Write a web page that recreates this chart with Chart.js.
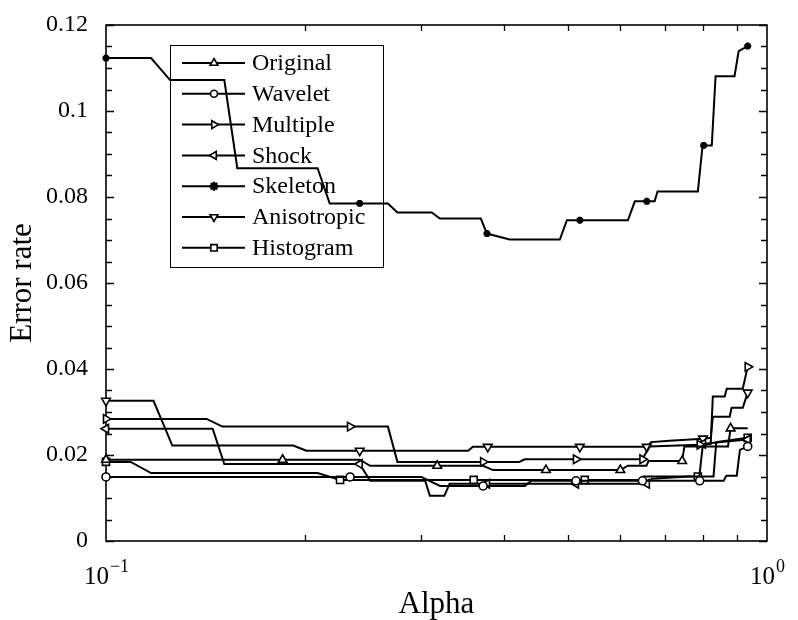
<!DOCTYPE html>
<html>
<head>
<meta charset="utf-8">
<script src="https://cdn.jsdelivr.net/npm/chart.js@4.4.0/dist/chart.umd.min.js"></script>
<style>
  html, body { margin: 0; padding: 0; background: #fff; }
</style>
</head>
<body>
<canvas id="chart" width="798" height="620"></canvas>
<script>
// axis ticks
const alphaTicks = [0.1, 1];
const alphaTickBase = ['10', '10'];
const alphaTickExp = ['\u22121', '0'];
const alphaMinor = [0.2, 0.3, 0.4, 0.5, 0.6, 0.7, 0.8, 0.9];
const errorTicks = [0, 0.02, 0.04, 0.06, 0.08, 0.1, 0.12];

// series (alpha, error rate, alphas carrying a marker)
const originalAlpha = [0.100, 0.185, 0.242, 0.251, 0.317, 0.372, 0.385, 0.463, 0.600, 0.616, 0.657, 0.662, 0.744, 0.750, 0.873, 0.881, 0.935];
const originalRate  = [0.0189, 0.0189, 0.0189, 0.0175, 0.0175, 0.0175, 0.0165, 0.0165, 0.0165, 0.0175, 0.0175, 0.0186, 0.0186, 0.0220, 0.0220, 0.0262, 0.0262];
const originalMarks = [0.100, 0.185, 0.317, 0.463, 0.600, 0.744, 0.881];

const waveletAlpha = [0.100, 0.234, 0.300, 0.320, 0.372, 0.430, 0.440, 0.514, 0.648, 0.791, 0.860, 0.868, 0.900, 0.910, 0.935];
const waveletRate  = [0.0149, 0.0149, 0.0149, 0.0128, 0.0128, 0.0128, 0.0140, 0.0140, 0.0140, 0.0140, 0.0140, 0.0152, 0.0152, 0.0212, 0.0220];
const waveletMarks = [0.100, 0.234, 0.372, 0.514, 0.648, 0.791, 0.935];

const multipleAlpha = [0.100, 0.142, 0.150, 0.234, 0.267, 0.276, 0.372, 0.422, 0.430, 0.514, 0.648, 0.664, 0.791, 0.822, 0.828, 0.863, 0.869, 0.919, 0.935];
const multipleRate  = [0.0284, 0.0284, 0.0266, 0.0266, 0.0266, 0.0184, 0.0184, 0.0184, 0.0190, 0.0190, 0.0190, 0.0220, 0.0224, 0.0226, 0.0336, 0.0336, 0.0354, 0.0354, 0.0405];
const multipleMarks = [0.100, 0.234, 0.372, 0.514, 0.648, 0.791, 0.935];

const shockAlpha = [0.100, 0.145, 0.151, 0.242, 0.251, 0.304, 0.309, 0.325, 0.331, 0.377, 0.514, 0.658, 0.670, 0.760, 0.790, 0.800, 0.935];
const shockRate  = [0.0261, 0.0261, 0.0179, 0.0179, 0.0140, 0.0140, 0.0105, 0.0105, 0.0133, 0.0133, 0.0133, 0.0133, 0.0145, 0.0150, 0.0150, 0.0226, 0.0236];
const shockMarks = [0.100, 0.242, 0.377, 0.514, 0.658, 0.800, 0.935];

const skeletonAlpha = [0.100, 0.117, 0.125, 0.151, 0.158, 0.209, 0.218, 0.242, 0.267, 0.276, 0.311, 0.320, 0.369, 0.377, 0.408, 0.486, 0.498, 0.521, 0.616, 0.631, 0.658, 0.676, 0.683, 0.786, 0.799, 0.802, 0.825, 0.836, 0.893, 0.906, 0.935];
const skeletonRate  = [0.1123, 0.1123, 0.1072, 0.1072, 0.0867, 0.0867, 0.0785, 0.0785, 0.0785, 0.0764, 0.0764, 0.0750, 0.0750, 0.0715, 0.0701, 0.0701, 0.0746, 0.0746, 0.0746, 0.0790, 0.0790, 0.0790, 0.0813, 0.0813, 0.0920, 0.0920, 0.0920, 0.1081, 0.1081, 0.1139, 0.1151];
const skeletonMarks = [0.100, 0.242, 0.377, 0.521, 0.658, 0.802, 0.935];

const anisoAlpha = [0.100, 0.118, 0.126, 0.192, 0.201, 0.242, 0.353, 0.359, 0.378, 0.521, 0.658, 0.668, 0.712, 0.800, 0.822, 0.828, 0.878, 0.884, 0.919, 0.935];
const anisoRate  = [0.0326, 0.0326, 0.0222, 0.0222, 0.0210, 0.0210, 0.0210, 0.0219, 0.0219, 0.0219, 0.0219, 0.0230, 0.0233, 0.0238, 0.0240, 0.0289, 0.0289, 0.0310, 0.0310, 0.0345];
const anisoMarks = [0.100, 0.242, 0.378, 0.521, 0.658, 0.800, 0.935];

const histAlpha = [0.100, 0.109, 0.117, 0.209, 0.226, 0.360, 0.530, 0.640, 0.650, 0.786, 0.830, 0.838, 0.935];
const histRate  = [0.0184, 0.0184, 0.0158, 0.0158, 0.0142, 0.0142, 0.0142, 0.0142, 0.0150, 0.0150, 0.0150, 0.0230, 0.0240];
const histMarks = [0.100, 0.226, 0.360, 0.530, 0.786, 0.935];

const FONT = '"Liberation Serif", "DejaVu Serif", serif';

function makeSet(label, xs, ys, marks, style, rotation, fill, size) {
    return {
        label,
        data: xs.map((x, i) => ({ x, y: ys[i] })),
        borderColor: '#000',
        borderWidth: 2,
        tension: 0,
        fill: false,
        clip: false,
        pointStyle: style,
        pointRotation: rotation,
        pointBackgroundColor: fill,
        pointBorderColor: '#000',
        pointBorderWidth: style === 'star' ? 2.5 : 1.6,
        pointRadius: (ctx) => (ctx.raw && marks.includes(ctx.raw.x)) ? size : 0,
        pointHoverRadius: 0,
        legendRadius: style === 'star' ? 4.5 : size - 0.5,
    };
}

const datasets = [
    makeSet('Original', originalAlpha, originalRate, originalMarks, 'triangle', 0, '#fff', 5),
    makeSet('Wavelet', waveletAlpha, waveletRate, waveletMarks, 'circle', 0, '#fff', 4),
    makeSet('Multiple', multipleAlpha, multipleRate, multipleMarks, 'triangle', 90, '#fff', 5),
    makeSet('Shock', shockAlpha, shockRate, shockMarks, 'triangle', -90, '#fff', 5),
    makeSet('Skeleton', skeletonAlpha, skeletonRate, skeletonMarks, 'star', 0, '#000', 3.5),
    makeSet('Anisotropic', anisoAlpha, anisoRate, anisoMarks, 'triangle', 180, '#fff', 5),
    makeSet('Histogram', histAlpha, histRate, histMarks, 'rect', 0, '#fff', 5),
];

// box round the plot, inward ticks on all four sides, power-of-ten labels
const frameTicks = {
    id: 'frameTicks',
    beforeDatasetsDraw(chart) {
        const { ctx, chartArea: a, scales: { x, y } } = chart;
        ctx.save();
        ctx.strokeStyle = '#000';
        ctx.lineWidth = 1.3;
        ctx.beginPath();
        for (let i = 0; i <= 24; i++) {
            const py = Math.round(y.getPixelForValue(i * 0.005)) + 0.5;
            const len = i % 4 === 0 ? 8 : 6;
            ctx.moveTo(a.left, py); ctx.lineTo(a.left + len, py);
            ctx.moveTo(a.right, py); ctx.lineTo(a.right - len, py);
        }
        alphaMinor.forEach((v) => {
            const px = Math.round(x.getPixelForValue(v)) + 0.5;
            ctx.moveTo(px, a.bottom); ctx.lineTo(px, a.bottom - 6);
            ctx.moveTo(px, a.top); ctx.lineTo(px, a.top + 6);
        });
        ctx.stroke();
        ctx.lineWidth = 1.6;
        ctx.strokeRect(a.left, a.top, a.right - a.left, a.bottom - a.top);

        ctx.fillStyle = '#000';
        ctx.textBaseline = 'alphabetic';
        ctx.textAlign = 'left';
        alphaTicks.forEach((v, i) => {
            const px = x.getPixelForValue(v);
            ctx.font = '25px ' + FONT;
            const wBase = ctx.measureText(alphaTickBase[i]).width;
            ctx.font = '18px ' + FONT;
            const wExp = ctx.measureText(alphaTickExp[i]).width;
            const left = px - (wBase + wExp) / 2;
            ctx.font = '25px ' + FONT;
            ctx.fillText(alphaTickBase[i], left, a.bottom + 43);
            ctx.font = '18px ' + FONT;
            ctx.fillText(alphaTickExp[i], left + wBase + 1, a.bottom + 31);
        });
        ctx.restore();
    },
};

// MATLAB style legend box in the upper left of the axes
const legendBox = {
    id: 'legendBox',
    afterDatasetsDraw(chart) {
        const { ctx, chartArea: a } = chart;
        const x0 = a.left + 64, y0 = a.top + 20;
        ctx.save();
        ctx.strokeStyle = '#000';
        ctx.lineWidth = 1;
        ctx.strokeRect(x0 + 0.5, y0 + 0.5, 213, 222);
        ctx.font = '24px ' + FONT;
        ctx.textBaseline = 'middle';
        chart.data.datasets.forEach((ds, i) => {
            const y = y0 + 18 + i * 30.8;
            ctx.lineWidth = 2;
            ctx.beginPath();
            ctx.moveTo(x0 + 12, y);
            ctx.lineTo(x0 + 75, y);
            ctx.stroke();
            ctx.fillStyle = ds.pointBackgroundColor;
            ctx.lineWidth = ds.pointBorderWidth;
            Chart.helpers.drawPoint(ctx, {
                pointStyle: ds.pointStyle,
                rotation: ds.pointRotation,
                radius: ds.legendRadius,
                borderWidth: ds.pointBorderWidth,
            }, x0 + 44, y);
            ctx.fillStyle = '#000';
            ctx.fillText(ds.label, x0 + 82, y + 1);
        });
        ctx.restore();
    },
};

new Chart(document.getElementById('chart'), {
    type: 'line',
    data: { datasets },
    options: {
        responsive: false,
        animation: false,
        events: [],
        layout: { padding: { top: 25, right: 31, left: 0, bottom: 0 } },
        plugins: { legend: { display: false }, tooltip: { enabled: false } },
        scales: {
            x: {
                type: 'logarithmic',
                min: 0.1,
                max: 1,
                grid: { display: false },
                border: { display: false },
                afterBuildTicks: (s) => { s.ticks = alphaTicks.map((value) => ({ value })); },
                afterFit: (s) => { s.height = 79; },
                ticks: { display: false },
                title: {
                    display: true,
                    text: 'Alpha',
                    color: '#000',
                    font: { family: FONT, size: 31 },
                    padding: { top: 0, bottom: -3 },
                },
            },
            y: {
                min: 0,
                max: 0.12,
                grid: { display: false },
                border: { display: false },
                afterBuildTicks: (s) => { s.ticks = errorTicks.map((value) => ({ value })); },
                afterFit: (s) => { s.width = 106; },
                ticks: {
                    padding: 10,
                    color: '#000',
                    font: { family: FONT, size: 24 },
                    callback: (v) => String(+v.toFixed(3)),
                },
                title: {
                    display: true,
                    text: 'Error rate',
                    color: '#000',
                    font: { family: FONT, size: 31 },
                    padding: { top: 4, bottom: 0 },
                },
            },
        },
    },
    plugins: [frameTicks, legendBox],
});
</script>
</body>
</html>
